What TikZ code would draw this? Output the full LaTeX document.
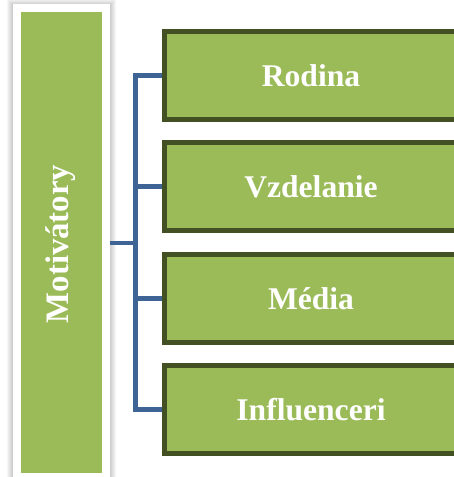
\documentclass[tikz,border=0pt]{standalone}
\usepackage{fontspec}
\setmainfont{Liberation Serif}
\usetikzlibrary{backgrounds}
\begin{document}
\definecolor{leafgreen}{HTML}{9BBB59}
\definecolor{darkolive}{HTML}{435024}
\definecolor{linkblue}{HTML}{3E6496}
\begin{tikzpicture}[x=0.5pt,y=-0.5pt,
  item/.style={rectangle, draw=darkolive, line width=2.5pt, fill=leafgreen,
    minimum width=146.5pt, minimum height=44pt, inner sep=0pt,
    text=white, font=\bfseries\fontsize{15.8}{18}\selectfont},
  frame/.style={rectangle, draw=white, line width=4pt, fill=leafgreen,
    minimum width=44.5pt, minimum height=234.5pt, inner sep=0pt},
  label/.style={rotate=90, text=white, font=\bfseries\fontsize{16.4}{18}\selectfont},
  link/.style={draw=linkblue, line width=2.4pt}]
\useasboundingbox (0,0) rectangle (454,477);
\begin{scope}
\clip (0,0) rectangle (454,477);
% left framed box with its rotated title
\node[frame] (motiv) at (61.5,242.5) {};
\node[label] (mtext) at (60.5,244) {Motivátory};
% the four boxes on the right
\node[item] (b1) at (311,75.5) {Rodina};
\node[item] (b2) at (311,186.8) {Vzdelanie};
\node[item] (b3) at (311,298.2) {Média};
\node[item] (b4) at (311,409.5) {Influenceri};
% branching point of the bracket
\coordinate (hub) at (135.5,243);
\begin{pgfonlayer}{background}
  % soft shadow around the white frame
  \foreach \k in {1,...,6}
    \fill[black, opacity=0.035] (13-\k,5-\k) rectangle (110+\k,490);
  % bracket connector
  \path[link] (b1.west) -| (hub |- b4.west) -- (b4.west);
  \path[link] (hub |- b2.west) -- (b2.west);
  \path[link] (hub |- b3.west) -- (b3.west);
  \path[link] (hub) -- (motiv.east |- hub);
\end{pgfonlayer}
\end{scope}
\end{tikzpicture}
\end{document}
